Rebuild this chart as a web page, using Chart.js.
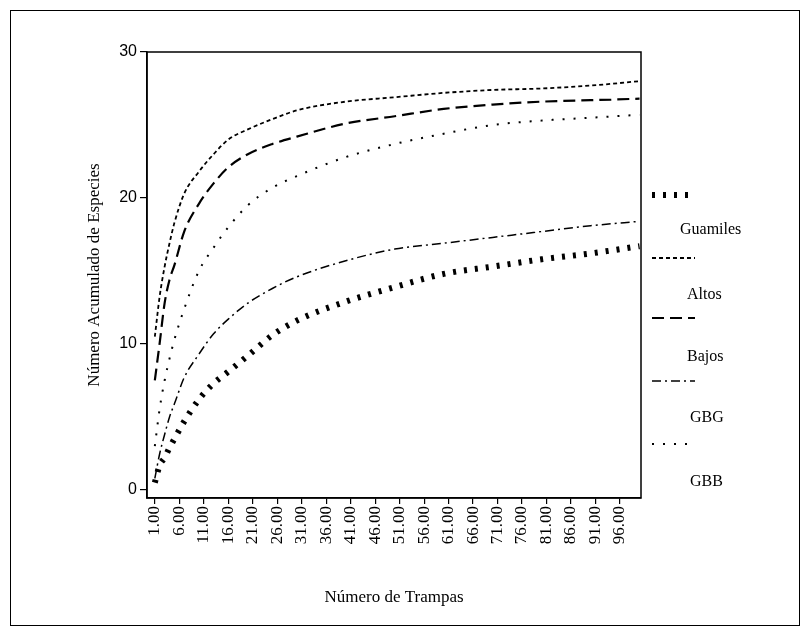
<!DOCTYPE html>
<html>
<head>
<meta charset="utf-8">
<script src="https://cdn.jsdelivr.net/npm/chart.js@4.4.1/dist/chart.umd.min.js"></script>
<style>
  html, body { margin: 0; padding: 0; background: #fff; }
  #wrap { position: relative; width: 806px; height: 630px; }
  #frame { position: absolute; left: 10px; top: 10px; width: 790px; height: 616px;
           border: 1.5px solid #000; box-sizing: border-box; }
  #c { position: absolute; left: 0; top: 0; }
</style>
</head>
<body>
<div id="wrap">
  <div id="frame"></div>
  <canvas id="c" width="806" height="630"></canvas>
</div>
<script>
// ── data ──
const trampas  = [1, 2, 3, 4, 5, 7, 10, 13, 16, 20, 25, 30, 40, 50, 60, 70, 80, 90, 100];
const guamiles = [0.5, 1.7, 2.2, 2.9, 3.5, 4.7, 6.2, 7.3, 8.1, 9.2, 10.6, 11.6, 12.9, 13.9, 14.8, 15.3, 15.8, 16.2, 16.7];
const altos    = [10.5, 13.3, 15.3, 16.9, 18.3, 20.3, 21.8, 23.0, 24.0, 24.7, 25.4, 26.0, 26.6, 26.9, 27.2, 27.4, 27.5, 27.7, 28.0];
const bajos    = [7.5, 10.1, 12.8, 14.4, 15.4, 17.7, 19.6, 21.0, 22.1, 23.0, 23.7, 24.2, 25.1, 25.6, 26.1, 26.4, 26.6, 26.7, 26.8];
const gbg      = [0.8, 2.5, 3.8, 5.0, 5.9, 7.7, 9.3, 10.7, 11.7, 12.8, 13.8, 14.6, 15.7, 16.5, 16.9, 17.3, 17.7, 18.1, 18.4];
const gbb      = [3.0, 5.6, 7.5, 9.0, 10.3, 12.4, 15.0, 16.6, 18.0, 19.5, 20.7, 21.5, 22.8, 23.7, 24.4, 25.0, 25.3, 25.5, 25.7];

const xTicks = [1, 6, 11, 16, 21, 26, 31, 36, 41, 46, 51, 56, 61, 66, 71, 76, 81, 86, 91, 96];
const yTicks = [0, 10, 20, 30];

const SERIF = "'Liberation Serif', 'DejaVu Serif', serif";
const SANS = "'Liberation Sans', Arial, sans-serif";

const pts = arr => trampas.map((x, i) => ({ x, y: arr[i] }));

function line(label, arr, width, dash) {
  return {
    label,
    data: pts(arr),
    borderColor: '#000',
    borderWidth: width,
    borderDash: dash,
    pointRadius: 0,
    fill: false,
    cubicInterpolationMode: 'monotone',
  };
}

// box around the plot area
const boxPlugin = {
  id: 'box',
  afterDatasetsDraw(chart) {
    const { ctx, chartArea: a } = chart;
    ctx.save();
    ctx.strokeStyle = '#000';
    ctx.lineWidth = 1.5;
    ctx.strokeRect(a.left, a.top, a.right - a.left, a.bottom - a.top);
    ctx.restore();
  },
};

// SPSS-style legend: line sample above each label
const legendPlugin = {
  id: 'spssLegend',
  afterDraw(chart) {
    const ctx = chart.ctx;
    const symY = [195, 258, 318, 381, 444];
    const labY = [230, 295, 357, 418, 482];
    const labX = [680, 687, 687, 690, 690];
    ctx.save();
    chart.data.datasets.forEach((ds, i) => {
      ctx.beginPath();
      ctx.strokeStyle = '#000';
      ctx.lineWidth = ds.borderWidth;
      ctx.setLineDash(ds.borderDash || []);
      ctx.moveTo(652, symY[i]);
      ctx.lineTo(695, symY[i]);
      ctx.stroke();
      ctx.setLineDash([]);
      ctx.fillStyle = '#000';
      ctx.font = '16px ' + SERIF;
      ctx.textBaseline = 'middle';
      ctx.textAlign = 'left';
      ctx.fillText(ds.label, labX[i], labY[i]);
    });
    ctx.restore();
  },
};

new Chart(document.getElementById('c'), {
  type: 'line',
  data: {
    datasets: [
      line('Guamiles', guamiles, 6, [3, 8]),
      line('Altos', altos, 1.8, [4, 3]),
      line('Bajos', bajos, 2.2, [12, 6]),
      line('GBG', gbg, 1.5, [9, 4, 2, 4]),
      line('GBB', gbb, 2, [2, 9]),
    ],
  },
  options: {
    responsive: false,
    devicePixelRatio: 1,
    animation: false,
    layout: { padding: { left: 84, top: 52, right: 165, bottom: 18 } },
    plugins: { legend: { display: false }, tooltip: { enabled: false } },
    scales: {
      x: {
        type: 'linear',
        min: -0.6,
        max: 100.3,
        afterBuildTicks: s => { s.ticks = xTicks.map(v => ({ value: v })); },
        afterFit: s => { s.height = 114; },
        ticks: {
          autoSkip: false,
          minRotation: 90,
          maxRotation: 90,
          padding: 2,
          color: '#000',
          font: { family: SERIF, size: 17 },
          callback: v => Number(v).toFixed(2),
        },
        grid: { drawOnChartArea: false, drawTicks: true, tickLength: 6, color: '#000', lineWidth: 1.2 },
        border: { display: true, color: '#000', width: 1.5 },
        title: {
          display: true,
          text: 'Número de Trampas',
          color: '#000',
          font: { family: SERIF, size: 17 },
          padding: { top: 0, bottom: 4 },
        },
      },
      y: {
        type: 'linear',
        min: -0.55,
        max: 30,
        afterBuildTicks: s => { s.ticks = yTicks.map(v => ({ value: v })); },
        afterFit: s => { s.width = 63; },
        ticks: { color: '#000', padding: 3, font: { family: SANS, size: 16 } },
        grid: { drawOnChartArea: false, drawTicks: true, tickLength: 7, color: '#000', lineWidth: 1.2 },
        border: { display: true, color: '#000', width: 1.5 },
        title: {
          display: true,
          text: 'Número Acumulado de Especies',
          color: '#000',
          font: { family: SERIF, size: 17 },
          padding: 0,
        },
      },
    },
  },
  plugins: [boxPlugin, legendPlugin],
});
</script>
</body>
</html>
